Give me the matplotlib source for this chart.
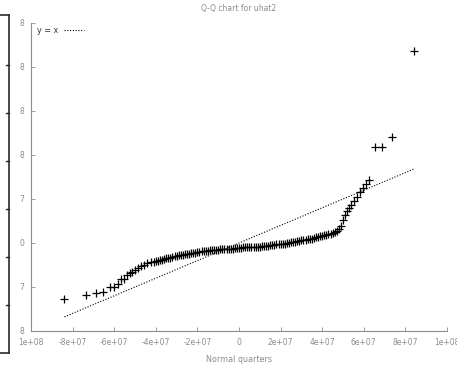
import numpy as np
import matplotlib.pyplot as plt
from matplotlib.lines import Line2D

# Q-Q points, in units of 1e7 (normal quantile, sorted uhat2)
tail_lo_x = [-8.39, -7.37, -6.89, -6.55, -6.22, -6.02, -5.83, -5.69, -5.54, -5.40,
             -5.25, -5.16, -5.01, -4.87, -4.72, -4.58, -4.43, -4.24, -4.10]
tail_lo_y = [-6.36, -5.91, -5.68, -5.57, -5.00, -5.00, -4.66, -4.09, -4.09, -3.64,
             -3.41, -3.30, -3.07, -2.84, -2.61, -2.50, -2.27, -2.16, -2.16]

body_x = [-4.0, -3.9, -3.8, -3.7, -3.6, -3.5, -3.4, -3.3, -3.2, -3.1, -3.0,
          -2.9, -2.8, -2.7, -2.6, -2.5, -2.4, -2.3, -2.2, -2.1, -2.0,
          -1.9, -1.8, -1.7, -1.6, -1.5, -1.4, -1.3, -1.2, -1.1, -1.0,
          -0.9, -0.8, -0.7, -0.6, -0.5, -0.4, -0.3, -0.2, -0.1, 0.0,
          0.1, 0.2, 0.3, 0.4, 0.5, 0.6, 0.7, 0.8, 0.9, 1.0,
          1.1, 1.2, 1.3, 1.4, 1.5, 1.6, 1.7, 1.8, 1.9, 2.0,
          2.1, 2.2, 2.3, 2.4, 2.5, 2.6, 2.7, 2.8, 2.9, 3.0,
          3.1, 3.2, 3.3, 3.4, 3.5, 3.6, 3.7, 3.8, 3.9, 4.0,
          4.1, 4.2, 4.3, 4.4, 4.5, 4.6, 4.7, 4.8, 4.9]
body_y = [-2.05, -1.99, -1.93, -1.88, -1.82, -1.76, -1.71, -1.65, -1.59, -1.53, -1.48,
          -1.42, -1.36, -1.33, -1.30, -1.28, -1.25, -1.19, -1.14, -1.08, -1.02,
          -0.99, -0.96, -0.94, -0.91, -0.88, -0.85, -0.83, -0.80, -0.77, -0.74,
          -0.71, -0.68, -0.68, -0.68, -0.68, -0.68, -0.65, -0.62, -0.60, -0.57,
          -0.54, -0.51, -0.48, -0.45, -0.45, -0.45, -0.45, -0.45, -0.42, -0.40,
          -0.37, -0.34, -0.31, -0.29, -0.26, -0.23, -0.20, -0.17, -0.14, -0.11,
          -0.08, -0.06, -0.03, 0.00, 0.06, 0.12, 0.17, 0.23, 0.26, 0.29,
          0.31, 0.34, 0.40, 0.46, 0.51, 0.57, 0.63, 0.69, 0.74, 0.80,
          0.86, 0.91, 0.97, 1.02, 1.13, 1.24, 1.36, 1.60, 1.93]

tail_hi_x = [5.01, 5.11, 5.20, 5.30, 5.40, 5.54, 5.69, 5.83, 5.98, 6.12, 6.27,
             6.55, 6.89, 7.37, 8.39]
tail_hi_y = [2.61, 3.18, 3.64, 3.98, 4.32, 4.77, 5.23, 5.80, 6.25, 6.70, 7.16,
             10.9, 10.9, 12.05, 21.8]

xticks = [-10, -8, -6, -4, -2, 0, 2, 4, 6, 8, 10]
xlabels = ["1e+08", "-8e+07", "-6e+07", "-4e+07", "-2e+07", "0",
           "2e+07", "4e+07", "6e+07", "8e+07", "1e+08"]
yticks = [-10, -5, 0, 5, 10, 15, 20, 25]
ylabels = ["8", "7", "0", "7", "8", "8", "8", "8"]  # left part cut off

scale = 1e7
gray = "#8c8c8c"

fig = plt.figure(figsize=(4.57, 3.69), dpi=100)
ax = fig.add_axes([31/457, 38/369, 416/457, 308/369])

xs = np.array(tail_lo_x + body_x + tail_hi_x) * scale
ys = np.array(tail_lo_y + body_y + tail_hi_y) * scale
ax.plot(xs, ys, "+", color="black", markersize=5.5, mew=0.9, linestyle="none")
ax.plot([xs[0], xs[-1]], [xs[0], xs[-1]], color="black", lw=0.8,
        linestyle=(0, (1, 1.5)), label="y = x")

ax.set_xlim(-1e8, 1e8)
ax.set_ylim(-1e8, 2.5e8)
ax.set_xticks(np.array(xticks) * scale, xlabels)
ax.set_yticks(np.array(yticks) * scale, ylabels)
ax.tick_params(direction="in", length=3, width=0.6, color=gray,
               labelcolor=gray, labelsize=5.5, pad=5)
for s in ["top", "right"]:
    ax.spines[s].set_visible(False)
for s in ["left", "bottom"]:
    ax.spines[s].set_color(gray)
    ax.spines[s].set_linewidth(0.8)

ax.set_title("Q-Q chart for uhat2", fontsize=5.5, color=gray, pad=9)
ax.set_xlabel("Normal quarters", fontsize=5.8, color=gray, labelpad=6)

leg = ax.legend(loc="upper left", frameon=False, fontsize=5.8,
                handlelength=2.5, borderaxespad=0.3, markerfirst=False,
                bbox_to_anchor=(0.0, 1.01))
for t in leg.get_texts():
    t.set_color("#333333")

# frame of the neighbouring window at the left edge
W, H = 457, 369
dark = "#2a2a2a"
fig.add_artist(Line2D([9/W, 9/W], [1 - 15/H, 1 - 353/H], color=dark, lw=1.2))
fig.add_artist(Line2D([0, 9/W], [1 - 15/H, 1 - 15/H], color=dark, lw=1.2))
fig.add_artist(Line2D([0, 9/W], [1 - 353/H, 1 - 353/H], color=dark, lw=1.2))
for ty in [65, 113, 161, 209, 257, 305]:
    fig.add_artist(Line2D([6/W, 9/W], [1 - ty/H, 1 - ty/H], color=dark, lw=1.0))

fig.savefig("out.png", dpi=100)
